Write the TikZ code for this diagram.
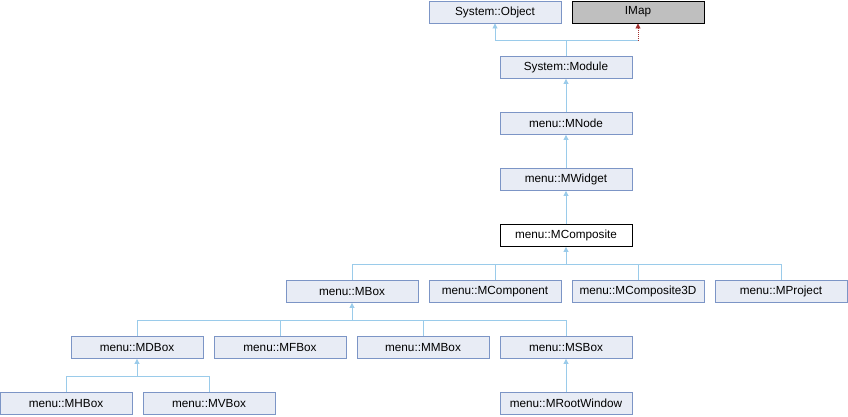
\documentclass[tikz,border=0pt]{standalone}
\usepackage{fontspec}
\setmainfont{Liberation Sans}
\usetikzlibrary{arrows.meta}
\definecolor{boxfill}{HTML}{E8ECF5}
\definecolor{boxline}{HTML}{7C95C6}
\definecolor{edgeblue}{HTML}{9ACBEA}
\definecolor{edgered}{HTML}{A3312F}
\definecolor{grayfill}{HTML}{BFBFBF}
\tikzset{
  cls/.style={draw=boxline, fill=boxfill, line width=0.9bp, minimum width=132bp, minimum height=22bp, inner sep=0pt, font=\fontsize{11.8}{12}\selectfont},
  clsmain/.style={cls, draw=black, fill=white},
  clsext/.style={cls, draw=black, fill=grayfill},
  inh/.style={draw=edgeblue, line width=0.9bp, -{Triangle[width=5bp,length=5bp]}},
  inhred/.style={draw=edgered, line width=0.9bp, densely dotted, -{Triangle[width=5bp,length=5bp]}},
  ln/.style={draw=edgeblue, line width=0.9bp},
}
\begin{document}
\begin{tikzpicture}[x=1bp,y=-1bp]
\useasboundingbox (0,0) rectangle (848,416);
% row 0
\node[cls] (obj) at (495,12) {System::Object};
\node[clsext] (imap) at (638,12) {IMap};
% rows 1-4
\node[cls] (mod) at (566,67.5) {System::Module};
\node[cls] (node) at (566,123.5) {menu::MNode};
\node[cls] (widget) at (566,179.5) {menu::MWidget};
\node[clsmain] (comp) at (566,235.5) {menu::MComposite};
% row 5
\node[cls] (mbox) at (352,291.5) {menu::MBox};
\node[cls] (mcomponent) at (495,291.5) {menu::MComponent};
\node[cls] (mcomp3d) at (638,291.5) {menu::MComposite3D};
\node[cls] (mproject) at (781,291.5) {menu::MProject};
% row 6
\node[cls] (mdbox) at (137,347.5) {menu::MDBox};
\node[cls] (mfbox) at (280,347.5) {menu::MFBox};
\node[cls] (mmbox) at (423,347.5) {menu::MMBox};
\node[cls] (msbox) at (566,347.5) {menu::MSBox};
% row 7
\node[cls] (mhbox) at (66,403.5) {menu::MHBox};
\node[cls] (mvbox) at (209,403.5) {menu::MVBox};
\node[cls] (mroot) at (566,403.5) {menu::MRootWindow};

% junction coordinates
\coordinate (j0) at (566,40.5);
\coordinate (jr) at (638,40.5);
\coordinate (j5) at (566,264);
\coordinate (j6) at (352,320);
\coordinate (j7) at (137,376);

% System::Module -> Object, IMap
\draw[ln] (mod.north) -- (j0);
\draw[inh] (j0) -| (obj.south);
\draw[ln] (j0) -- (jr);
\draw[inhred] (jr) -- (imap.south);
% chain
\draw[inh] (node.north) -- (mod.south);
\draw[inh] (widget.north) -- (node.south);
\draw[inh] (comp.north) -- (widget.south);
% MComposite children
\draw[inh] (j5) -- (comp.south);
\draw[ln] (mbox.north) |- (j5);
\draw[ln] (mcomponent.north) |- (j5);
\draw[ln] (mcomp3d.north) |- (j5);
\draw[ln] (mproject.north) |- (j5);
% MBox children
\draw[inh] (j6) -- (mbox.south);
\draw[ln] (mdbox.north) |- (j6);
\draw[ln] (mfbox.north) |- (j6);
\draw[ln] (mmbox.north) |- (j6);
\draw[ln] (msbox.north) |- (j6);
% MDBox children
\draw[inh] (j7) -- (mdbox.south);
\draw[ln] (mhbox.north) |- (j7);
\draw[ln] (mvbox.north) |- (j7);
% MSBox child
\draw[inh] (mroot.north) -- (msbox.south);
\end{tikzpicture}
\end{document}
